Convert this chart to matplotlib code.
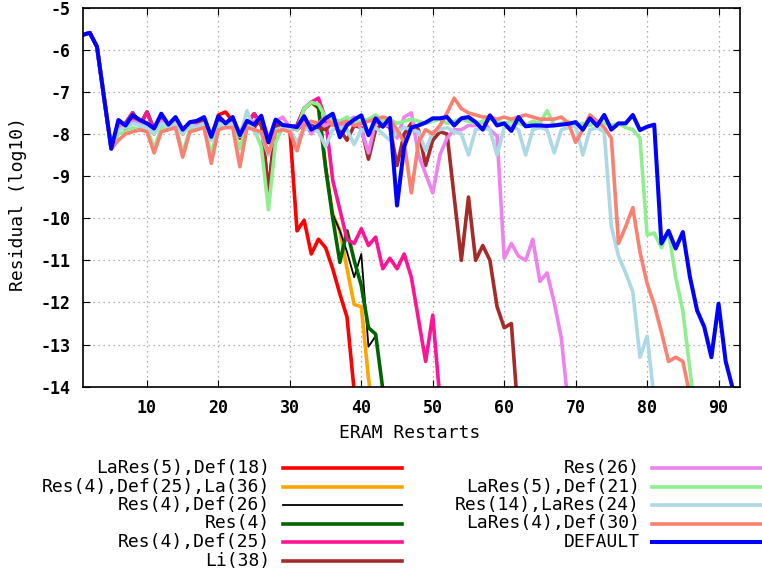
import matplotlib
matplotlib.use('agg')
import matplotlib.pyplot as plt
from matplotlib.lines import Line2D

plt.rcParams['axes.unicode_minus'] = False
plt.rcParams['font.family'] = 'DejaVu Sans Mono'

# first restarts are shared by every run
start = [-5.65, -5.6, -5.93, -7.15, -8.35]

# Res(4) based runs share the flat part
res4_flat = [-7.8, -7.75, -7.5, -7.8, -7.48, -7.9, -7.65, -7.8, -7.7, -7.95,
             -7.8, -7.75, -7.7, -8.1, -7.65, -7.8, -7.7, -8.05, -7.75, -7.52,
             -7.8, -8.2, -7.75, -7.8, -7.85, -7.8, -7.4, -7.25]

lares5_def18 = start + [-7.75, -7.9, -7.6, -7.7, -7.8, -8.0, -7.6, -7.85, -7.65, -8.0,
                        -7.75, -7.7, -7.65, -8.1, -7.55, -7.48, -7.7, -8.1, -7.7, -7.85,
                        -7.6, -9.4, -7.7, -7.85, -7.9, -10.3, -10.05, -10.85, -10.5, -10.7,
                        -11.2, -11.8, -12.35, -14.1]
res4_def25_la36 = start + res4_flat + [-7.4, -8.8, -9.9, -10.3, -11.2, -12.05, -12.1, -13.8, -15.0]
res4_def26 = start + res4_flat + [-7.4, -8.7, -9.9, -10.3, -10.8, -11.4, -10.85, -13.05, -12.8, -14.05]
res4 = start + res4_flat + [-7.35, -8.8, -10.0, -11.05, -10.3, -11.0, -11.6, -12.6, -12.75, -14.05]
res4_def25 = start + res4_flat + [-7.15, -7.65, -9.1, -9.8, -10.5, -10.6, -10.25, -10.65, -10.45, -11.2,
                                  -10.95, -11.2, -10.85, -11.4, -12.4, -13.4, -12.3, -14.3]
li38 = start + [-7.85, -7.8, -7.7, -7.75, -7.8, -7.95, -7.7, -7.8, -7.75, -7.95,
                -7.8, -7.75, -7.7, -8.1, -7.7, -7.75, -7.75, -8.1, -7.75, -7.8,
                -7.7, -9.4, -7.8, -7.85, -7.85, -7.9, -7.75, -7.8, -7.85, -7.9,
                -7.7, -7.9, -8.15, -7.8, -7.85, -8.6, -7.9, -7.75, -7.85, -8.75,
                -8.0, -7.75, -7.9, -8.75, -8.15, -7.95, -8.0, -9.5, -11.0, -9.5,
                -11.0, -10.65, -11.0, -12.1, -12.6, -12.5, -14.8]
res26 = start + [-7.8, -7.85, -7.7, -7.75, -7.8, -7.95, -7.7, -7.8, -7.7, -7.95,
                 -7.8, -7.8, -7.75, -8.1, -7.75, -7.8, -7.75, -8.05, -7.8, -7.7,
                 -7.6, -8.1, -7.7, -7.6, -7.85, -7.9, -7.7, -8.0, -7.75, -7.8,
                 -7.7, -7.85, -7.7, -7.6, -7.9, -8.45, -7.7, -7.8, -7.8, -8.1,
                 -7.6, -7.5, -8.5, -8.95, -9.4, -8.5, -8.1, -7.9, -7.9, -7.8,
                 -7.8, -7.7, -7.9, -8.05, -10.95, -10.6, -10.9, -11.0, -10.5, -11.5,
                 -11.3, -12.0, -12.85, -14.5]
lares5_def21 = start + [-8.0, -7.95, -7.85, -7.9, -7.85, -8.35, -7.85, -7.9, -7.8, -8.45,
                        -7.9, -7.85, -7.8, -8.5, -7.8, -7.85, -7.8, -8.35, -7.8, -7.9,
                        -8.3, -9.8, -8.2, -7.85, -7.8, -7.9, -7.4, -7.25, -7.3, -7.6,
                        -7.65, -7.7, -7.6, -7.75, -7.7, -7.65, -7.55, -7.7, -7.65, -7.75,
                        -7.7, -7.65, -7.7, -7.75, -7.7, -7.65, -7.75, -7.7, -7.65, -7.7,
                        -7.75, -7.7, -7.65, -7.7, -7.75, -7.7, -7.75, -7.8, -7.7, -7.75,
                        -7.45, -7.8, -7.75, -7.7, -7.8, -7.75, -7.8, -7.7, -7.75, -7.8,
                        -7.75, -7.85, -7.9, -8.1, -10.4, -10.35, -10.7, -10.3, -11.4, -12.2,
                        -13.6, -15.0]
res14_lares24 = start + [-7.9, -7.85, -7.75, -7.8, -7.85, -8.0, -7.75, -7.85, -7.75, -8.0,
                         -7.8, -7.85, -7.75, -8.15, -7.75, -7.8, -7.75, -8.05, -7.45, -7.95,
                         -8.0, -8.5, -7.9, -7.85, -7.9, -8.2, -7.9, -7.85, -7.95, -8.3,
                         -7.9, -7.85, -7.9, -8.25, -7.9, -7.95, -7.85, -8.0, -8.15, -7.95,
                         -7.85, -7.9, -7.95, -8.4, -7.95, -7.9, -7.85, -7.95, -8.0, -8.5,
                         -7.9, -7.85, -7.9, -8.5, -7.85, -7.8, -7.9, -8.5, -7.9, -7.85,
                         -7.9, -8.45, -7.9, -7.85, -7.8, -8.5, -7.9, -7.85, -7.95, -10.2,
                         -10.9, -11.3, -11.75, -13.3, -12.8, -14.3]
lares4_def30 = start + [-8.15, -8.0, -7.95, -7.9, -7.95, -8.45, -7.95, -7.9, -7.85, -8.55,
                        -7.95, -7.9, -7.85, -8.7, -7.9, -7.85, -7.85, -8.78, -7.85, -7.9,
                        -7.95, -8.45, -7.95, -7.9, -7.95, -8.4, -7.8, -7.7, -7.75, -7.6,
                        -7.8, -7.75, -7.7, -7.8, -7.75, -7.7, -7.65, -7.6, -7.65, -7.9,
                        -8.2, -9.4, -8.2, -7.9, -8.0, -7.8, -7.5, -7.15, -7.4, -7.5,
                        -7.55, -7.6, -7.6, -7.65, -7.6, -7.65, -7.6, -7.55, -7.6, -7.65,
                        -7.65, -7.65, -7.6, -7.75, -8.2, -7.9, -7.55, -7.7, -7.85, -8.1,
                        -10.6, -10.2, -9.75, -10.8, -11.55, -12.05, -12.7, -13.4, -13.3, -13.4,
                        -14.2]
default = start + [-7.67, -7.8, -7.55, -7.67, -7.75, -7.87, -7.52, -7.78, -7.6, -7.9,
                   -7.72, -7.69, -7.6, -8.07, -7.58, -7.75, -7.6, -8.03, -7.69, -7.78,
                   -7.57, -8.2, -7.66, -7.79, -7.81, -7.84, -7.58, -7.9, -7.8, -7.63,
                   -7.52, -8.08, -7.79, -7.66, -7.56, -8.03, -7.63, -7.83, -7.62, -9.7,
                   -8.3, -7.85, -7.8, -7.73, -7.63, -7.63, -7.6, -7.8, -7.63, -7.6,
                   -7.72, -7.9, -7.56, -7.8, -7.75, -7.93, -7.6, -7.82, -7.8, -7.8,
                   -7.81, -7.8, -7.78, -7.76, -7.72, -7.9, -7.63, -7.81, -7.55, -7.9,
                   -7.75, -7.75, -7.55, -7.91, -7.83, -7.78, -10.6, -10.3, -10.72, -10.33,
                   -11.4, -12.19, -12.58, -13.3, -12.03, -13.4, -14.05]

labels = ['LaRes(5),Def(18)', 'Res(4),Def(25),La(36)', 'Res(4),Def(26)', 'Res(4)',
          'Res(4),Def(25)', 'Li(38)', 'Res(26)', 'LaRes(5),Def(21)',
          'Res(14),LaRes(24)', 'LaRes(4),Def(30)', 'DEFAULT']
values = [lares5_def18, res4_def25_la36, res4_def26, res4, res4_def25, li38,
          res26, lares5_def21, res14_lares24, lares4_def30, default]
colors = ['#ff0000', '#ffa500', '#000000', '#006400', '#ff1493', '#a52a2a',
          '#ee82ee', '#90ee90', '#add8e6', '#fa8072', '#0000ff']
widths = [2.6, 2.6, 1.3, 2.6, 2.6, 2.6, 2.6, 2.6, 2.6, 2.6, 2.9]

fig = plt.figure(figsize=(7.62, 5.73), dpi=100)
ax = fig.add_axes([0.1085, 0.3251, 0.8626, 0.6618])

for lab, vals, col, lw in zip(labels, values, colors, widths):
    ax.plot(range(1, len(vals) + 1), vals, color=col, lw=lw, label=lab)

ax.set_xlim(1, 93)
ax.set_ylim(-14, -5)
ax.set_xticks(range(10, 91, 10))
ax.set_yticks(range(-14, -4))
ax.grid(True, color='#999999', linestyle=(0, (1, 3)), lw=0.9)
ax.tick_params(direction='in', length=5, top=True, right=True, labelsize=12, pad=9)
for lbl in ax.get_xticklabels() + ax.get_yticklabels():
    lbl.set_fontweight('bold')
for sp in ax.spines.values():
    sp.set_linewidth(1.2)

W, H = 762.0, 573.0
fig.text(18 / W, 1 - 204 / H, 'Residual (log10)', rotation=90, ha='center', va='center', fontsize=13)
fig.text(410 / W, 1 - 433 / H, 'ERAM Restarts', ha='center', va='center', fontsize=13)

# legend in two columns under the plot, text left of the line
rows = [468, 486.5, 505, 523.5, 542, 560.5]
for i, (lab, col, lw) in enumerate(zip(labels, colors, widths)):
    if i < 6:
        tx, l0, l1, y = 270, 283, 402, rows[i]
    else:
        tx, l0, l1, y = 640, 652, 762, rows[i - 6]
    fig.text(tx / W, 1 - y / H, lab, ha='right', va='center', fontsize=13)
    fig.add_artist(Line2D([l0 / W, l1 / W], [1 - y / H, 1 - y / H], color=col, lw=lw))

plt.savefig('out.png', dpi=100)
